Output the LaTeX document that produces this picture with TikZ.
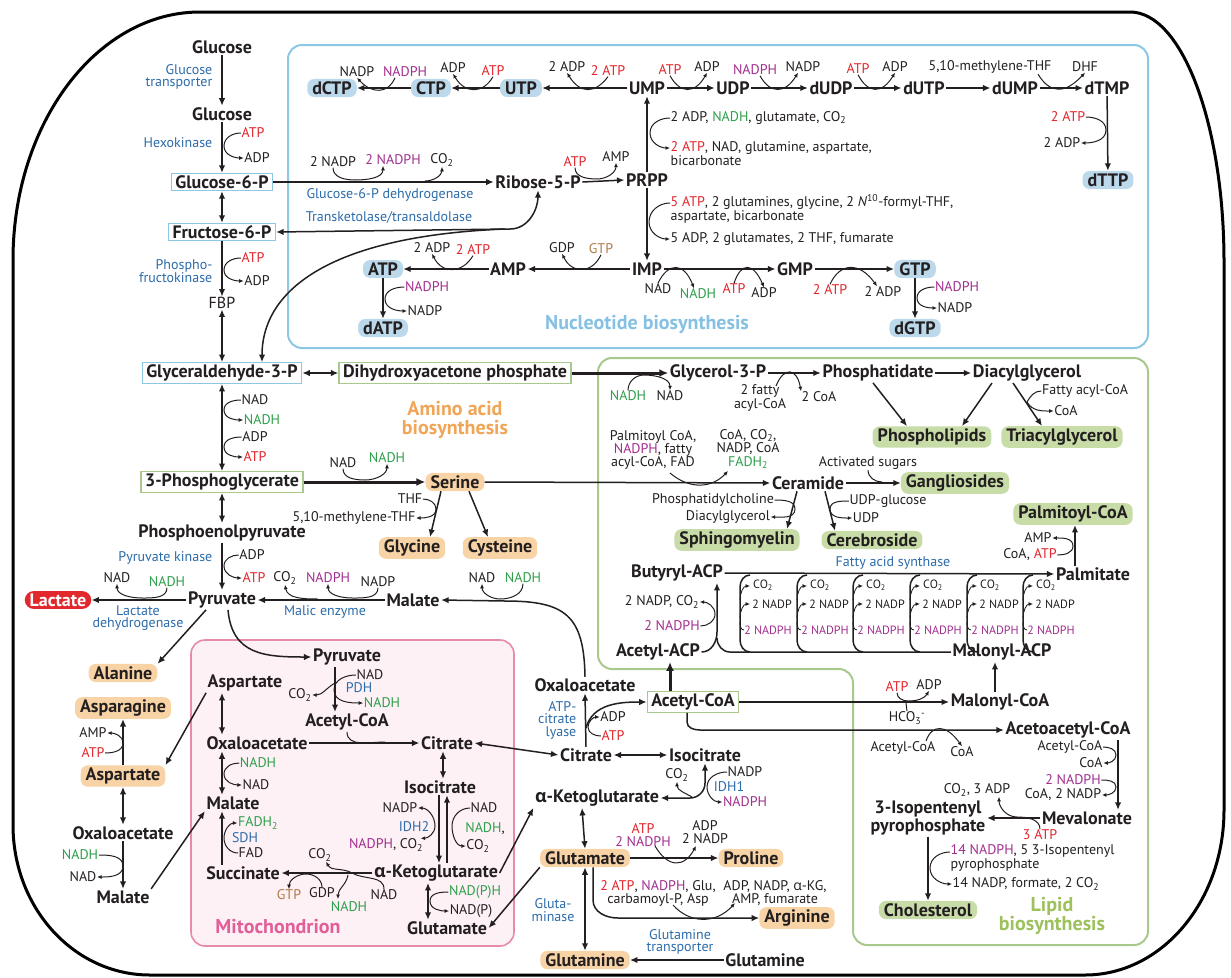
\documentclass[tikz,border=0pt]{standalone}
\usepackage{fontspec}
\setmainfont{PT Sans}
\newfontfamily\grkfont{Open Sans}
\usetikzlibrary{arrows.meta}
\definecolor{catp}{HTML}{E2262C}
\definecolor{cnadh}{HTML}{2E9F4B}
\definecolor{cnadph}{HTML}{A22F8F}
\definecolor{cenz}{HTML}{2C6CAA}
\definecolor{cgtp}{HTML}{B07A45}
\definecolor{nucline}{HTML}{8CC7E6}
\definecolor{nucfill}{HTML}{BCD9EC}
\definecolor{nuctext}{HTML}{86C0E2}
\definecolor{aafill}{HTML}{F7D3A6}
\definecolor{aatext}{HTML}{F0A656}
\definecolor{lipline}{HTML}{A8C98B}
\definecolor{lipfill}{HTML}{C8DCA8}
\definecolor{liptext}{HTML}{9DC15C}
\definecolor{mitoline}{HTML}{E68AAE}
\definecolor{mitofill}{HTML}{FDF1F5}
\definecolor{mitotext}{HTML}{E15E98}
\definecolor{lacfill}{HTML}{E2282C}
\definecolor{ink}{HTML}{231F20}
\newcommand{\fbig}{\fontsize{18}{18}\selectfont}
\newcommand{\fsm}{\fontsize{14}{13}\selectfont}
\newcommand{\fsmm}{\fontsize{14}{12.5}\selectfont}
\newcommand{\fxs}{\fontsize{12}{12}\selectfont}
\newcommand{\xR}[1]{\textcolor{catp}{#1}}
\newcommand{\xG}[1]{\textcolor{cnadh}{#1}}
\newcommand{\xP}[1]{\textcolor{cnadph}{#1}}
\newcommand{\xtwo}{\textsubscript{2}}
\newcommand{\xalpha}{{\grkfont α}}
\tikzset{
 met/.style={font=\fbig\bfseries, text=ink, inner sep=1.5pt},
 lab/.style={font=\fsm, text=ink, inner sep=0.5pt},
 labx/.style={font=\fxs, text=ink, inner sep=0.5pt},
 enz/.style={font=\fsm, text=cenz, inner sep=0.5pt},
 gbox/.style={met, draw=nucline, line width=1.2pt, fill=white, inner xsep=4pt, inner ysep=2pt},
 lbox/.style={met, draw=lipline, line width=1.2pt, fill=white, inner xsep=4pt, inner ysep=2pt},
 npill/.style={met, fill=nucfill, rounded corners=7pt, inner xsep=5pt, inner ysep=2.5pt},
 apill/.style={met, fill=aafill, rounded corners=7pt, inner xsep=5pt, inner ysep=2.5pt},
 lpill/.style={met, fill=lipfill, rounded corners=7pt, inner xsep=5pt, inner ysep=2.5pt},
 lacpill/.style={met, fill=lacfill, text=white, rounded corners=9pt, inner xsep=5pt, inner ysep=2.5pt},
 reglab/.style={font=\fontsize{20}{19}\selectfont\bfseries, align=center, inner sep=0pt},
 rx/.style={draw=ink, line width=1.5pt, -{Latex[length=7.5pt,width=6.5pt]}},
 rxx/.style={draw=ink, line width=1.5pt, {Latex[length=7.5pt,width=6.5pt]}-{Latex[length=7.5pt,width=6.5pt]}},
 rxt/.style={draw=ink, line width=3pt, -{Latex[length=9pt,width=8pt]}},
 ln/.style={draw=ink, line width=1.5pt},
 sd/.style={draw=ink, line width=1pt, -{Latex[length=4.5pt,width=4pt]}},
 sdd/.style={draw=ink, line width=1pt, {Latex[length=4.5pt,width=4pt]}-{Latex[length=4.5pt,width=4pt]}},
 sdl/.style={draw=ink, line width=1pt}
}
\begin{document}
\begin{tikzpicture}[x=1pt,y=-1pt]
\useasboundingbox (0,0) rectangle (1231,977);
\fill[white] (0,0) rectangle (1231,977);
% outer frame
\draw[black, line width=3pt] (200,12) -- (1130,12) .. controls (1182,12) and (1224,124) .. (1224,262) -- (1224,810) .. controls (1224,901) and (1162,975) .. (1085,975) -- (150,975) .. controls (74,975) and (13,908) .. (13,825) -- (13,260) .. controls (13,123) and (97,12) .. (200,12) -- cycle;
% regions
\draw[nucline, line width=2pt, rounded corners=14pt] (288,45) rectangle (1148,348);
\filldraw[fill=mitofill, draw=mitoline, line width=1.6pt, rounded corners=14pt] (191,640) rectangle (514,946);
\draw[lipline, line width=2pt, rounded corners=14pt] (598,358) -- (1148,358) -- (1148,945) -- (853,945) -- (853,669) -- (598,669) -- cycle;
\node[reglab, text=nuctext] (nuclab) at (647,324) {Nucleotide biosynthesis};
\node[reglab, text=aatext] (aalab) at (455,420) {Amino acid\\biosynthesis};
\node[reglab, text=liptext, font=\fontsize{20}{17.5}\selectfont\bfseries] (liplab) at (1052,916) {Lipid\\biosynthesis};
\node[reglab, text=mitotext] (mitolab) at (278,927) {Mitochondrion};

% ===== Glycolysis =====
\node[met] (glc1) at (222,47) {Glucose};
\node[enz, align=right, anchor=east, font=\fsmm] (glut) at (213,77) {Glucose\\transporter};
\node[met] (glc2) at (222,114) {Glucose};
\node[enz, anchor=east] (hk) at (213,143) {Hexokinase};
\node[lab] (hkatp) at (253,133) {\xR{ATP}};
\node[lab] (hkadp) at (257,158) {ADP};
\node[gbox] (g6p) at (222,182) {Glucose-6-P};
\node[gbox] (f6p) at (222,232) {Fructose-6-P};
\node[enz, align=right, anchor=east, font=\fsmm] (pfk) at (213,271) {Phospho-\\fructokinase};
\node[lab] (pfkatp) at (253,258) {\xR{ATP}};
\node[lab] (pfkadp) at (257,281) {ADP};
\node[lab, font=\fontsize{16}{16}\selectfont] (fbp) at (222,303) {FBP};
\node[gbox] (g3p) at (222,373) {Glyceraldehyde-3-P};
\node[lbox] (dhap) at (455,373) {Dihydroxyacetone phosphate};
\node[lab] (gnad) at (255,400) {NAD};
\node[lab] (gnadh) at (262,420) {\xG{NADH}};
\node[lab] (gadp) at (255,437) {ADP};
\node[lab] (gatp) at (255,457) {\xR{ATP}};
\node[lbox] (pg3) at (222,482) {3-Phosphoglycerate};
\node[met] (pep) at (222,533) {Phosphoenolpyruvate};
\node[enz, anchor=east] (pk) at (213,558) {Pyruvate kinase};
\node[lab] (pkadp) at (252,555) {ADP};
\node[lab] (pkatp) at (254,578) {\xR{ATP}};
\node[met] (pyr) at (222,600) {Pyruvate};
\node[lacpill] (lac) at (58,600) {Lactate};
\node[lab] (ldnad) at (117,578) {NAD};
\node[lab] (ldnadh) at (167,582) {\xG{NADH}};
\node[enz, align=center, font=\fsmm] (ldh) at (138,618) {Lactate\\dehydrogenase};
\node[lab] (meco2) at (285,578) {CO\xtwo};
\node[lab] (menadph) at (328,578) {\xP{NADPH}};
\node[lab] (menadp) at (378,582) {NADP};
\node[enz] (me) at (325,612) {Malic enzyme};
\node[met] (mal1) at (413,600) {Malate};

\draw[rx] (glc1) -- (glc2);
\draw[rx] (glc2) -- (g6p);
\draw[sd] (hkatp.west) to[out=180,in=90] (224,146) to[out=-90,in=180] (hkadp.west);
\draw[rxx] (g6p) -- (f6p);
\draw[rx] (f6p) -- (fbp);
\draw[sd] (pfkatp.west) to[out=180,in=90] (224,270) to[out=-90,in=180] (pfkadp.west);
\draw[rxx] (fbp) -- (g3p);
\draw[rxx] (g3p) -- (dhap);
\draw[rxx] (g3p) -- (pg3);
\draw[sd] (gnad.west) to[out=180,in=90] (224,410) to[out=-90,in=180] (gnadh.west);
\draw[sd] (gadp.west) to[out=180,in=90] (224,447) to[out=-90,in=180] (gatp.west);
\draw[rxx] (pg3) -- (pep);
\draw[rx] (pep) -- (pyr);
\draw[sd] (pkadp.west) to[out=180,in=90] (224,566) to[out=-90,in=180] (pkatp.west);
\draw[rx] (pyr) -- (lac);
\draw[sd] (ldnadh.south) to[out=-90,in=0] (142,598) to[out=180,in=-90] (ldnad.south);
\draw[rx] (mal1) -- (pyr);
\draw[sd] (menadp.south) to[out=-90,in=0] (352,598) to[out=180,in=-90] (menadph.south);
\draw[sd] (318,599) to[out=180,in=-80] (meco2.south);

% ===== Amino acids =====
\node[apill] (ser) at (455,482) {Serine};
\node[lab] (snad) at (343,463) {NAD};
\node[lab] (snadh) at (387,458) {\xG{NADH}};
\draw[rxt] (pg3) -- (ser);
\draw[sd] (snad.south) to[out=-90,in=180] (365,480) to[out=0,in=-90] (snadh.south);
\node[lab] (thf) at (410,499) {THF};
\node[lab] (mthf) at (354,518) {5,10-methylene-THF};
\node[apill] (gly) at (412,548) {Glycine};
\node[apill] (cys) at (500,548) {Cysteine};
\draw[rx] ([xshift=-14pt]ser.south) -- ([xshift=18pt]gly.north);
\draw[rx] ([xshift=14pt]ser.south) -- ([xshift=-12pt]cys.north);
\draw[sd] (thf.east) to[out=0,in=90] (436,509) to[out=-90,in=0] (mthf.east);
\node[met] (oaa2) at (585,685) {Oxaloacetate};
\node[lab] (mnad1) at (482,578) {NAD};
\node[lab] (mnadh1) at (523,578) {\xG{NADH}};
\draw[rx] (oaa2.north) .. controls (584,615) and (565,601) .. (505,601) -- (mal1.east);
\draw[sd] (mnadh1.south) to[out=-90,in=0] (500,599) to[out=180,in=-90] (mnad1.south);

% cytosolic TCA side
\node[enz, align=right, anchor=east, font=\fsmm] (acl) at (577,720) {ATP-\\citrate\\lyase};
\node[met] (cit2) at (586,755) {Citrate};
\node[lab] (aclatp) at (613,736) {\xR{ATP}};
\node[lab] (acladp) at (613,717) {ADP};
\node[lbox] (accoa) at (693,702) {Acetyl-CoA};
\draw[rx] (cit2.north) -- (oaa2.south);
\draw[rx] (586,728) to[out=75,in=180] (accoa.west);
\draw[sd] (aclatp.west) to[out=180,in=-90] (588,727) to[out=90,in=180] (acladp.west);
\node[met] (icit2) at (705,755) {Isocitrate};
\draw[rxx] (cit2) -- (icit2);
\node[met] (akg2) at (597,798) {\xalpha-Ketoglutarate};
\node[lab] (i1co2) at (677,775) {CO\xtwo};
\node[lab] (i1nadp) at (745,772) {NADP};
\node[enz] (idh1) at (729,787) {IDH1};
\node[lab] (i1nadph) at (745,802) {\xP{NADPH}};
\draw[rxx] (akg2.east) -- (690,798) to[out=0,in=-90] (705,783) -- (icit2.south);
\draw[sd] (692,797) to[out=150,in=-90] (i1co2.south);
\draw[sd] (i1nadp.west) to[out=180,in=90] (707,787) to[out=-90,in=180] (i1nadph.west);
\node[apill] (glu2) at (585,858) {Glutamate};
\draw[rxx] ([xshift=-15pt]akg2.south) -- (glu2.north);
\node[apill] (pro) at (751,858) {Proline};
\draw[rx] (glu2) -- (pro);
\node[lab, align=center, font=\fsmm] (proin) at (643,835) {\xR{ATP}\\\xP{2 NADPH}};
\node[lab, align=center, font=\fsmm] (proout) at (705,832) {ADP\\2 NADP};
\draw[sd] (655,846) .. controls (668,868) and (684,868) .. (696,846);
\node[apill] (arg) at (797,918) {Arginine};
\draw[rx] ([xshift=8pt]glu2.south) -- (593,900) to[out=-90,in=180] (618,918) -- (arg.west);
\node[lab, align=center, font=\fontsize{14}{12}\selectfont] (argin) at (658,893) {\xR{2 ATP}, \xP{NADPH}, Glu,\\carbamoyl-P, Asp};
\node[lab, align=center, font=\fontsize{14}{12}\selectfont] (argout) at (775,893) {ADP, NADP, \xalpha-KG,\\AMP, fumarate};
\draw[sd] (673,905) .. controls (690,924) and (716,924) .. (735,903);
\node[apill] (gln2) at (585,960) {Glutamine};
\node[met] (gln1) at (765,960) {Glutamine};
\draw[rx] (gln1) -- (gln2);
\node[enz, align=center, font=\fsmm] (glnt) at (680,942) {Glutamine\\transporter};
\draw[rxx] (glu2) -- (gln2);
\node[enz, align=center, font=\fsmm] (glnase) at (553,910) {Gluta-\\minase};

% ===== left cytosol =====
\node[apill] (ala) at (123,673) {Alanine};
\node[apill] (asn) at (123,708) {Asparagine};
\node[lab] (asnamp) at (93,733) {AMP};
\node[lab] (asnatp) at (93,753) {\xR{ATP}};
\node[apill] (asp2) at (123,776) {Aspartate};
\node[met] (oaa1) at (123,833) {Oxaloacetate};
\node[lab] (o1nadh) at (80,855) {\xG{NADH}};
\node[lab] (o1nad) at (83,877) {NAD};
\node[met] (mal0) at (123,897) {Malate};
\draw[rx] (asp2) -- (asn);
\draw[sd] (asnatp.east) to[out=0,in=-90] (123,743) to[out=90,in=0] (asnamp.east);
\draw[rxx] (asp2) -- (oaa1);
\draw[rx] (oaa1) -- (mal0);
\draw[sd] (o1nadh.east) to[out=0,in=90] (123,866) to[out=-90,in=0] (o1nad.east);
\draw[rx] ([xshift=-16pt]pyr.south) -- (ala.north east);

% ===== Mitochondrion =====
\coordinate (mx) at (222,0);
\node[met] (pyrm) at (347,657) {Pyruvate};
\draw[rx] ([xshift=6pt]pyr.south) .. controls (232,655) and (265,657) .. (pyrm.west);
\node[met] (aspm) at (245,683) {Aspartate};
\node[met] (oaam) at (257,743) {Oxaloacetate};
\node[met] (malm) at (233,803) {Malate};
\node[met] (succ) at (243,873) {Succinate};
\node[lab] (mnadh) at (258,763) {\xG{NADH}};
\node[lab] (mnad) at (256,785) {NAD};
\node[lab] (fadh) at (258,823) {\xG{FADH\xtwo}};
\node[enz] (sdh) at (245,838) {SDH};
\node[lab] (fad) at (251,853) {FAD};
\draw[rxx] (aspm.south -| mx) -- (oaam.north -| mx);
\draw[rxx] (oaam.south -| mx) -- (malm.north -| mx);
\draw[sd] (mnadh.west) to[out=180,in=90] (224,774) to[out=-90,in=180] (mnad.west);
\draw[rx] (succ.north -| mx) -- (malm.south -| mx);
\draw[sd] (fad.west) to[out=180,in=-90] (224,838) to[out=90,in=180] (fadh.west);
\draw[rx] (aspm.south west) -- (asp2.north east);
\draw[rx] (mal0.north east) -- (malm.south west);
\node[met] (acm) at (347,722) {Acetyl-CoA};
\draw[rx] ([xshift=-12pt]pyrm.south) -- ([xshift=-12pt]acm.north);
\node[lab] (pnad) at (370,675) {NAD};
\node[enz] (pdh) at (359,688) {PDH};
\node[lab] (pnadh) at (382,703) {\xG{NADH}};
\node[lab] (pco2) at (300,695) {CO\xtwo};
\draw[sd] (pnad.west) to[out=180,in=90] (334,690) to[out=-90,in=180] (pnadh.west);
\draw[sd] (335,683) to[out=-150,in=0] (pco2.east);
\node[met] (citm) at (447,743) {Citrate};
\draw[rx] (oaam.east) -- (citm.west);
\draw[sdl] (acm.south) to[out=-90,in=180] (385,742);
\draw[rxx] (citm.east) -- (cit2.west);
\node[met] (icitm) at (440,787) {Isocitrate};
\draw[rxx] ([xshift=-4pt]citm.south) -- ([xshift=3pt]icitm.north);
\node[met] (akgm) at (436,873) {\xalpha-Ketoglutarate};
\draw[rx] ([xshift=-1pt]icitm.south) -- ([xshift=3pt]akgm.north);
\draw[rx] ([xshift=11pt]akgm.north) -- ([xshift=7pt]icitm.south);
\node[lab] (i2nadp) at (400,808) {NADP};
\node[enz] (idh2) at (414,827) {IDH2};
\node[lab] (i2nadph) at (386,845) {\xP{NADPH}, CO\xtwo};
\node[lab] (i2nad) at (484,808) {NAD};
\node[lab] (i2nadh) at (485,829) {\xG{NADH},};
\node[lab] (i2co2) at (478,846) {CO\xtwo};
\draw[sdd] (i2nadp.east) to[out=0,in=90] (435,826) to[out=-90,in=0] ([xshift=-3pt]i2nadph.north east);
\draw[sd] (i2nad.west) to[out=180,in=90] (452,826) to[out=-90,in=180] (i2co2.west);
\draw[rx] (akgm.west) -- (succ.east);
\node[lab] (sco2) at (320,855) {CO\xtwo};
\node[lab, text=cgtp] (sgtp) at (289,895) {GTP};
\node[lab] (sgdp) at (322,893) {GDP};
\node[lab] (snadh2) at (349,907) {\xG{NADH}};
\node[lab] (snad2) at (384,895) {NAD};
\draw[sd] (snad2.north) to[out=90,in=-30] (352,873) to[out=150,in=-60] ([xshift=6pt]sco2.south);
\draw[sd] (348,875) to[out=-100,in=90] (338,899);
\draw[sd] (sgdp.north) to[out=90,in=0] (306,874) to[out=180,in=90] (sgtp.north);
\node[met] (glum) at (447,928) {Glutamate};
\draw[rxx] ([xshift=-8pt]akgm.south) -- ([xshift=-19pt]glum.north);
\node[lab] (npph) at (475,892) {\xG{NAD(P)H}};
\node[lab] (npp) at (471,911) {NAD(P)};
\draw[sd] (npph.west) to[out=180,in=90] (430,901) to[out=-90,in=180] (npp.west);
\draw[rx] (akgm.east) -- (akg2.south west);
\draw[rx] (glu2.south west) -- (glum.east);

% ===== Lipid =====
\node[met] (gro3p) at (718,373) {Glycerol-3-P};
\draw[rxt] (dhap.east) -- (gro3p.west);
\node[lab] (dnadh) at (628,396) {\xG{NADH}};
\node[lab] (dnad) at (670,396) {NAD};
\draw[sd] (dnadh.north) to[out=90,in=180] (644,375) to[out=0,in=90] (dnad.north);
\node[met] (pa) at (878,373) {Phosphatidate};
\node[met] (dag) at (1027,373) {Diacylglycerol};
\draw[rx] (gro3p.east) -- (pa.west);
\node[lab, align=center, font=\fsmm] (fa2) at (760,398) {2 fatty\\acyl-CoA};
\node[lab] (coa2) at (819,397) {2 CoA};
\draw[sd] (776,386) .. controls (784,366) and (797,368) .. (coa2.north west);
\draw[rx] (pa.east) -- (dag.west);
\node[lpill] (pl) at (932,437) {Phospholipids};
\node[lpill] (tag) at (1062,437) {Triacylglycerol};
\draw[rx] ([xshift=-5pt]pa.south) -- ([xshift=-25pt]pl.north);
\draw[rx] ([xshift=-35pt]dag.south) -- ([xshift=30pt]pl.north);
\draw[rx] ([xshift=-14pt]dag.south) -- ([xshift=-20pt]tag.north);
\node[lab] (tfa) at (1085,391) {Fatty acyl-CoA};
\node[lab] (tcoa) at (1066,411) {CoA};
\draw[sd] (tfa.west) to[out=180,in=60] (1027,402) to[out=-60,in=180] (tcoa.west);
\node[lab, align=center, font=\fontsize{14}{13.2}\selectfont] (cerin) at (653,450) {Palmitoyl CoA,\\\xP{NADPH}, fatty\\acyl-CoA, FAD};
\node[lab, align=center, font=\fontsize{14}{13.6}\selectfont] (cerout) at (748,449) {CoA, CO\xtwo,\\NADP, CoA\\\xG{FADH\xtwo}};
\node[met] (cer) at (808,483) {Ceramide};
\draw[rx] (ser.east) -- (cer.west);
\draw[sd] (670,473) .. controls (690,490) and (712,488) .. (728,471);
\node[lab] (actsug) at (868,463) {Activated sugars};
\node[lpill] (gang) at (955,483) {Gangliosides};
\draw[rx] (cer.east) -- (gang.west);
\draw[sdl] (actsug.south) to[out=-90,in=180] (882,482);
\node[lpill] (cbr) at (872,540) {Cerebroside};
\draw[rx] ([xshift=17pt]cer.south) -- ([xshift=-37pt]cbr.north);
\node[lab] (udpg) at (888,501) {UDP-glucose};
\node[lab] (udp) at (866,518) {UDP};
\draw[sd] (udpg.west) to[out=180,in=90] (830,509) to[out=-90,in=180] (udp.west);
\node[lpill] (sph) at (737,540) {Sphingomyelin};
\draw[rx] ([xshift=-11pt]cer.south) -- ([xshift=50pt]sph.north);
\node[lab] (pc) at (713,500) {Phosphatidylcholine};
\node[lab] (dag2) at (728,517) {Diacylglycerol};
\draw[sd] (pc.east) to[out=0,in=90] (795,509) to[out=-90,in=0] (dag2.east);
\node[met] (palm) at (1093,574) {Palmitate};
\node[lpill] (palmcoa) at (1073,514) {Palmitoyl-CoA};
\draw[rx] ([xshift=-18pt]palm.north) -- ([xshift=2pt]palmcoa.south);
\node[lab] (pamp) at (1038,538) {AMP};
\node[lab] (pcoa) at (1030,555) {CoA, \xR{ATP}};
\draw[sd] (pcoa.east) to[out=0,in=-90] (1073,546) to[out=90,in=0] (pamp.east);
\node[enz] (fas) at (893,563) {Fatty acid synthase};
\node[met] (butacp) at (677,573) {Butyryl-ACP};
\node[met] (acacp) at (658,652) {Acetyl-ACP};
\node[met] (malacp) at (1002,652) {Malonyl-ACP};
\coordinate (vx) at (717,0);
\draw[rx] (butacp.east) -- (palm.west);
\draw[rx] (acacp.east) to[out=0,in=-90] (717,632) -- (butacp.south -| vx);
\draw[ln] (malacp.west) -- (730,652) to[out=180,in=-90] (717,638);
\node[lab] (fnadp) at (662,602) {2 NADP, CO\xtwo};
\node[lab, text=cnadph] (fnadph) at (672,626) {2 NADPH};
\draw[sd] (fnadph.east) to[out=0,in=-90] (715,614) to[out=90,in=0] (fnadp.east);
\foreach \x [count=\i] in {740,797,853,910,967,1023}{
  \draw[ln] (\x+10,652) to[out=180,in=-90] (\x,640) -- (\x,587) to[out=90,in=180] (\x+10,575);
  \draw[sd, line width=0.8pt] (\x,600) to[out=90,in=180] (\x+10,586);
  \draw[sd, line width=0.8pt] (\x,618) to[out=90,in=180] (\x+10,604);
  \draw[sdl, line width=0.8pt] (\x+4,630) to[out=180,in=-90] (\x,622);
  \node[labx] (fco\i) at (\x+23,585) {CO\xtwo};
  \node[labx] (fnp\i) at (\x+32,604) {2 NADP};
  \node[labx, text=cnadph] (fnh\i) at (\x+28,630) {2 NADPH};
}
\node[met] (malcoa) at (1000,702) {Malonyl-CoA};
\draw[rx] ([xshift=-5pt]malcoa.north) -- ([xshift=-7pt]malacp.south);
\draw[rxt] ([xshift=-23pt]accoa.north) -- ([xshift=12pt]acacp.south);
\draw[rx] (accoa.east) -- (malcoa.west);
\node[lab] (mcatp) at (897,687) {\xR{ATP}};
\node[lab] (mcadp) at (929,685) {ADP};
\node[lab] (hco3) at (907,718) {HCO\textsubscript{3}\textsuperscript{-}};
\draw[sd] (mcatp.south) to[out=-90,in=180] (908,701) to[out=0,in=-120] (mcadp.south);
\draw[sdl] (hco3.north) to[out=90,in=-90] (906,703);
\node[met] (aacoa) at (1068,730) {Acetoacetyl-CoA};
\draw[rx] ([xshift=-6pt]accoa.south) -- (687,722) to[out=-90,in=180] (700,730) -- (aacoa.west);
\node[lab] (aain) at (903,748) {Acetyl-CoA};
\node[lab] (aaout) at (962,752) {CoA};
\draw[sd] (926,741) .. controls (932,724) and (946,724) .. (aaout.north);
\node[met] (mev) at (1087,818) {Mevalonate};
\coordinate (mvx) at (1118,0);
\draw[rx] (aacoa.south -| mvx) -- (mev.north -| mvx);
\node[lab] (mv1) at (1070,747) {Acetyl-CoA};
\node[lab] (mv2) at (1091,763) {CoA};
\node[lab, text=cnadph] (mv3) at (1073,780) {2 NADPH};
\node[lab] (mv4) at (1063,795) {CoA, 2 NADP};
\draw[sd] (mv1.east) to[out=0,in=90] (1116,755) to[out=-90,in=0] (mv2.east);
\draw[sd] (mv3.east) to[out=0,in=90] (1116,787) to[out=-90,in=0] (mv4.east);
\node[met, align=center, font=\fontsize{18}{15}\selectfont\bfseries] (ipp) at (928,818) {3-Isopentenyl\\pyrophosphate};
\draw[rx] (mev.west) -- (ipp.east);
\node[lab] (ipco2) at (977,790) {CO\xtwo, 3 ADP};
\node[lab] (ipatp) at (1040,835) {\xR{3 ATP}};
\draw[sd] (ipatp.north) to[out=90,in=0] (1017,817) to[out=180,in=-90] ([xshift=22pt]ipco2.south);
\node[lpill] (chol) at (928,910) {Cholesterol};
\draw[rx] (ipp.south) -- (chol.north);
\node[lab, align=left, anchor=west, font=\fsmm] (ch1) at (950,858) {\xP{14 NADPH}, 5 3-Isopentenyl\\pyrophosphate};
\node[lab, anchor=west] (ch2) at (952,884) {14 NADP, formate, 2 CO\xtwo};
\draw[sd] ([yshift=6pt]ch1.west) to[out=180,in=90] (930,868) to[out=-90,in=180] (ch2.west);

% ===== Pentose phosphate / nucleotides =====
\node[met] (r5p) at (538,182) {Ribose-5-P};
\draw[rx] (g6p.east) -- (r5p.west);
\node[lab] (pn1) at (333,162) {2 NADP};
\node[lab, text=cnadph] (pn2) at (393,160) {2 NADPH};
\node[lab] (pco) at (442,160) {CO\xtwo};
\draw[sd] (pn1.south) to[out=-90,in=180] (355,180) to[out=0,in=-90] ([xshift=-10pt]pn2.south);
\draw[sd] (425,181) to[out=0,in=-90] (pco.south);
\node[enz] (g6pdh) at (390,195) {Glucose-6-P dehydrogenase};
\node[enz] (tkta) at (389,217) {Transketolase/transaldolase};
\draw[rxx] (r5p.south) to[out=-90,in=0] (510,229) -- (f6p.east);
\draw[rx] (505,229) .. controls (330,236) and (262,290) .. ([xshift=40pt]g3p.north);
\node[met] (prpp) at (647,180) {PRPP};
\draw[rx] (r5p.east) -- (prpp.west);
\node[lab] (ratp) at (575,162) {\xR{ATP}};
\node[lab] (ramp) at (616,157) {AMP};
\draw[sd] (ratp.south) to[out=-90,in=180] (597,179) to[out=0,in=-90] (ramp.south);
\node[met] (ump) at (647,88) {UMP};
\draw[rx] (prpp.north) -- (ump.south);
\node[lab, anchor=west] (u1) at (670,118) {2 ADP, \xG{NADH}, glutamate, CO\xtwo};
\node[lab, anchor=west, align=left, font=\fsmm] (u2) at (670,154) {\xR{2 ATP}, NAD, glutamine, aspartate,\\bicarbonate};
\draw[sd] (u1.west) to[out=180,in=90] (650,133) to[out=-90,in=180] ([yshift=6pt]u2.west);
\node[met] (imp) at (647,269) {IMP};
\draw[rx] (prpp.south) -- (imp.north);
\node[lab, anchor=west, align=left, font=\fsmm] (i1) at (670,209) {\xR{5 ATP}, 2 glutamines, glycine, 2 \textit{N}\textsuperscript{10}-formyl-THF,\\aspartate, bicarbonate};
\node[lab, anchor=west] (i2) at (670,239) {5 ADP, 2 glutamates, 2 THF, fumarate};
\draw[sd] ([yshift=6pt]i1.west) to[out=180,in=90] (649,222) to[out=-90,in=180] (i2.west);
% top row
\node[npill] (utp) at (521,88) {UTP};
\node[npill] (ctp) at (431,88) {CTP};
\node[npill] (dctp) at (332,88) {dCTP};
\node[met] (udp2) at (733,88) {UDP};
\node[met] (dudp) at (831,88) {dUDP};
\node[met] (dutp) at (924,88) {dUTP};
\node[met] (dump) at (1015,88) {dUMP};
\node[met] (dtmp) at (1107,88) {dTMP};
\node[npill] (dttp) at (1108,180) {dTTP};
\draw[rx] (ump) -- (utp);
\draw[rx] (utp) -- (ctp);
\draw[rx] (ctp) -- (dctp);
\draw[rx] (ump) -- (udp2);
\draw[rx] (udp2) -- (dudp);
\draw[rx] (dudp) -- (dutp);
\draw[rx] (dutp) -- (dump);
\draw[rx] (dump) -- (dtmp);
\draw[rx] (dtmp) -- (dttp);
\node[lab] (t1) at (567,67) {2 ADP};
\node[lab] (t2) at (608,71) {\xR{2 ATP}};
\draw[sd] (t2.south) .. controls (595,94) and (580,94) .. (t1.south);
\node[lab] (t3) at (453,68) {ADP};
\node[lab] (t4) at (493,71) {\xR{ATP}};
\draw[sd] (t4.south) .. controls (483,94) and (465,94) .. (t3.south);
\node[lab] (t5) at (357,72) {NADP};
\node[lab, text=cnadph] (t6) at (405,72) {NADPH};
\draw[sd] ([xshift=-10pt]t6.south) .. controls (388,94) and (372,94) .. (t5.south);
\node[lab] (t7) at (670,70) {\xR{ATP}};
\node[lab] (t8) at (707,67) {ADP};
\draw[sd] (t7.south) .. controls (680,94) and (695,94) .. (t8.south);
\node[lab, text=cnadph] (t9) at (755,70) {NADPH};
\node[lab] (t10) at (803,67) {NADP};
\draw[sd] ([xshift=5pt]t9.south) .. controls (770,94) and (785,94) .. ([xshift=-5pt]t10.south);
\node[lab] (t11) at (858,69) {\xR{ATP}};
\node[lab] (t12) at (895,67) {ADP};
\draw[sd] (t11.south) .. controls (868,94) and (882,94) .. (t12.south);
\node[lab] (t13) at (990,67) {5,10-methylene-THF};
\node[lab] (t14) at (1085,67) {DHF};
\draw[sd] ([xshift=48pt]t13.south) .. controls (1050,94) and (1065,94) .. (t14.south);
\node[lab] (t15) at (1068,117) {\xR{2 ATP}};
\node[lab] (t16) at (1062,143) {2 ADP};
\draw[sd] (t15.east) to[out=0,in=90] (1106,130) to[out=-90,in=0] (t16.east);
% bottom row
\node[met] (amp) at (508,269) {AMP};
\node[npill] (atp) at (383,269) {ATP};
\node[npill] (datp) at (383,328) {dATP};
\node[met] (gmp) at (795,269) {GMP};
\node[npill] (gtp) at (915,269) {GTP};
\node[npill] (dgtp) at (915,328) {dGTP};
\draw[rx] (imp) -- (amp);
\node[lab] (b1) at (562,248) {GDP};
\node[lab, text=cgtp] (b2) at (601,249) {GTP};
\draw[sd] (b2.south) .. controls (592,274) and (572,274) .. (b1.south);
\draw[rx] (amp) -- (atp);
\node[lab] (b3) at (432,248) {2 ADP};
\node[lab] (b4) at (473,250) {\xR{2 ATP}};
\draw[sd] (b4.south) .. controls (462,274) and (442,274) .. (b3.south);
\draw[rx] (atp) -- (datp);
\node[lab, text=cnadph] (b5) at (427,287) {NADPH};
\node[lab] (b6) at (425,311) {NADP};
\draw[sd] (b5.west) to[out=180,in=90] (385,299) to[out=-90,in=180] (b6.west);
\draw[rx] (imp) -- (gmp);
\node[lab] (b7) at (658,289) {NAD};
\node[lab] (b8) at (698,294) {\xG{NADH}};
\node[lab] (b9) at (734,289) {\xR{ATP}};
\node[lab] (b10) at (764,293) {ADP};
\draw[sd] (b7.north) .. controls (668,262) and (684,262) .. ([xshift=-4pt]b8.north);
\draw[sd] (b9.north) .. controls (741,262) and (753,262) .. (b10.north);
\draw[rx] (gmp) -- (gtp);
\node[lab] (b11) at (830,290) {\xR{2 ATP}};
\node[lab] (b12) at (883,292) {2 ADP};
\draw[sd] (b11.north) .. controls (840,262) and (860,262) .. ([xshift=-6pt]b12.north);
\draw[rx] (gtp) -- (dgtp);
\node[lab, text=cnadph] (b13) at (957,287) {NADPH};
\node[lab] (b14) at (955,308) {NADP};
\draw[sd] (b13.west) to[out=180,in=90] (917,298) to[out=-90,in=180] (b14.west);
\end{tikzpicture}
\end{document}
